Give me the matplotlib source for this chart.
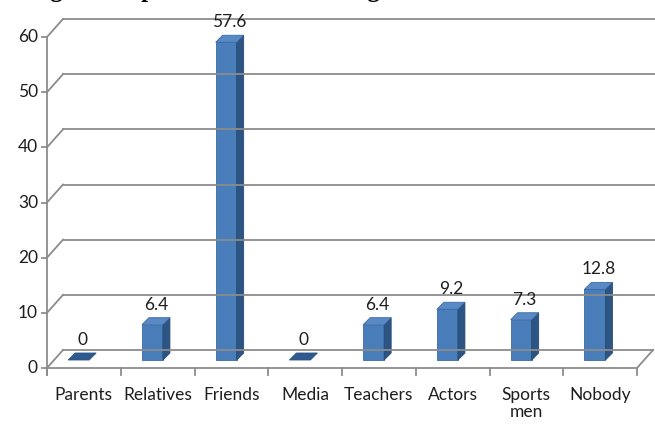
import matplotlib.pyplot as plt
from matplotlib.patches import Polygon

categories = ["Parents", "Relatives", "Friends", "Media", "Teachers", "Actors", "Sports\nmen", "Nobody"]
values = [0, 6.4, 57.6, 0, 6.4, 9.2, 7.3, 12.8]
yticks = [0, 10, 20, 30, 40, 50, 60]

W, H = 655, 428
plt.rcParams['font.family'] = ['Liberation Sans Narrow', 'Lato', 'DejaVu Sans']

fig = plt.figure(figsize=(W / 100, H / 100), dpi=100)
ax = fig.add_axes([47 / W, 60 / H, 608 / W, 331 / H])
ax.set_xlim(0, 608 / 73.75)
ax.set_ylim(0, 60)
ax.axis('off')

# pixel -> data unit helpers
PX = 8 / 590
PY = 60 / 331
grid_col = '#8c8c8c'
txt_col = '#1e1e1e'
wdx, wdy = 16 * PX, 18 * PY
xmax = 608 / 73.75

# back wall gridlines and the slanted links to the front axis
for v in yticks:
    if v > 0:
        ax.plot([0, wdx], [v, v + wdy], color=grid_col, lw=1.3, clip_on=False)
        ax.plot([wdx, xmax], [v + wdy, v + wdy], color=grid_col, lw=1.3, clip_on=False)
    ax.plot([-5 * PX, 0], [v, v], color=grid_col, lw=1.3, clip_on=False)
    ax.text(-9 * PX, v, str(v), ha='right', va='center', fontsize=12.5, color=txt_col)

# floor
n = len(categories)
ax.plot([0, n], [0, 0], color=grid_col, lw=1.3, clip_on=False)
ax.plot([0, wdx], [0, wdy], color=grid_col, lw=1.3, clip_on=False)
ax.plot([wdx, n + wdx], [wdy, wdy], color=grid_col, lw=1.3, clip_on=False)
ax.plot([n, n + wdx], [0, wdy], color=grid_col, lw=1.3, clip_on=False)
ax.plot([0, 0], [-7 * PY, 60], color=grid_col, lw=1.3, clip_on=False)
for i in range(n + 1):
    ax.plot([i, i], [0, -7 * PY], color=grid_col, lw=1.3, clip_on=False)

# 3d bars
bw = 21 * PX
bdx, bdy = 7 * PX, 7 * PY
base = 8 * PY
for i, v in enumerate(values):
    x0 = i + 0.5 - 0.213
    top = base + v
    lid = [(x0, top), (x0 + bw, top), (x0 + bw + bdx, top + bdy), (x0 + bdx, top + bdy)]
    if v > 0:
        front = [(x0, base), (x0 + bw, base), (x0 + bw, top), (x0, top)]
        side = [(x0 + bw, base), (x0 + bw + bdx, base + bdy), (x0 + bw + bdx, top + bdy), (x0 + bw, top)]
        ax.add_patch(Polygon(front, closed=True, fc='#4a7ebb', ec='#3a6aa3', lw=0.6, clip_on=False))
        ax.add_patch(Polygon(side, closed=True, fc='#2d5583', ec='#264a74', lw=0.6, clip_on=False))
        ax.add_patch(Polygon(lid, closed=True, fc='#5a8ac6', ec='#3a6aa3', lw=0.6, clip_on=False))
    else:
        ax.add_patch(Polygon(lid, closed=True, fc='#2f5a8f', ec='#2a5282', lw=0.6, clip_on=False))
    lab = str(v) if v != int(v) else str(int(v))
    ax.text(x0 + bw / 2 + bdx / 2, top + bdy + 13 * PY, lab, ha='center', va='center',
            fontsize=12.5, color=txt_col, clip_on=False)
    ax.text(i + 0.5, -19 * PY, categories[i], ha='center', va='top', fontsize=12.5,
            color=txt_col, linespacing=1.1)

# title, cut off at the top edge of the image (as in the source)
fig.text(28 / W, 1 + 3 / H, "Fig. 3: Respondents' idols among Students",
         family='Liberation Serif', fontweight='bold', fontsize=18, ha='left', va='baseline')

fig.savefig('out.png', dpi=100)
